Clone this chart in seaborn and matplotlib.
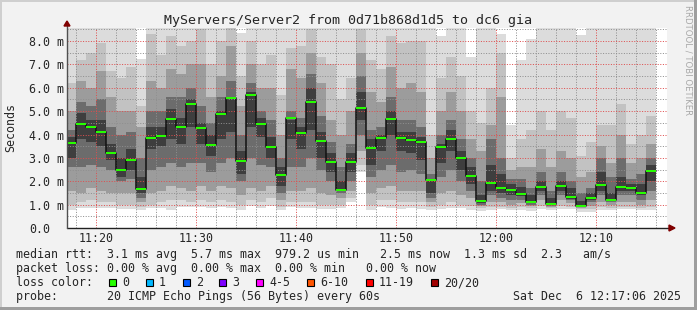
import numpy as np
import pandas as pd
import matplotlib
matplotlib.use("Agg")
import matplotlib.pyplot as plt
import seaborn as sns
from matplotlib.patches import Rectangle, Polygon
from matplotlib.lines import Line2D
from matplotlib.ticker import MultipleLocator, FuncFormatter

# ---------------- data (minutes after 11:00, values in ms) ----------------
col_start = list(range(17, 76))   # one column per minute, 11:17 .. 12:15

median = [3.62, 4.46, 4.33, 4.12, 3.22, 2.49, 2.92, 1.68, 3.86, 3.95,
          4.66, 4.33, 5.31, 4.29, 3.56, 4.89, 5.57, 2.88, 5.68, 4.46,
          3.46, 2.26, 4.70, 4.06, 5.38, 3.72, 2.83, 1.64, 2.83, 5.14,
          3.42, 3.85, 4.66, 3.85, 3.76, 3.68, 2.07, 3.46, 3.80, 3.00,
          2.24, 1.15, 1.94, 1.72, 1.64, 1.47, 1.13, 1.75, 1.04, 1.79,
          1.34, 0.95, 1.30, 1.84, 1.21, 1.75, 1.72, 1.51, 2.45]

# smoke: outermost (min..max ping) down to innermost band around the median
ping_min = [0.77, 0.85, 0.85, 0.85, 0.85, 0.80, 0.80, 0.75, 0.85, 0.85,
            0.77, 0.90, 0.90, 0.90, 0.85, 0.90, 0.85, 0.77, 0.95, 0.85,
            0.95, 0.77, 0.90, 0.85, 0.85, 0.80, 0.80, 0.85, 1.10, 2.40,
            0.77, 0.90, 0.85, 0.80, 0.85, 0.80, 0.77, 0.80, 0.85, 0.85,
            0.77, 0.72, 0.75, 0.80, 0.75, 0.75, 0.72, 0.80, 0.75, 0.80,
            0.80, 0.70, 0.70, 0.75, 0.75, 0.80, 0.80, 0.75, 0.75]
ping_max = [9, 9, 9, 9, 9, 9, 9, 7.25, 9, 9,
            9, 9, 9, 9, 9, 9, 9, 8.35, 9, 9,
            9, 9, 9, 9, 9, 9, 9, 9, 9, 9,
            9, 9, 9, 9, 9, 9, 9, 8.2, 9, 9,
            7.3, 9, 9, 8.3, 4.4, 7.2, 8.1, 9, 9, 9,
            9, 8.25, 9, 9, 9, 9, 9, 9, 9]
band2_low = [1.0, 1.1, 1.2, 1.1, 1.1, 1.0, 1.0, 0.9, 1.0, 1.1,
             1.2, 1.2, 1.1, 1.2, 1.1, 1.2, 1.1, 1.0, 1.2, 1.1,
             1.3, 0.9, 1.1, 1.1, 1.1, 1.0, 1.0, 1.0, 1.3, 2.7,
             1.0, 1.2, 1.2, 1.1, 1.1, 1.1, 0.9, 1.0, 1.1, 1.0,
             0.95, 0.85, 0.9, 0.9, 0.85, 0.9, 0.85, 0.95, 0.85, 0.95,
             0.9, 0.8, 0.8, 0.9, 0.85, 0.9, 0.9, 0.85, 0.9]
band2_high = [6.2, 7.2, 7.5, 7.9, 6.7, 6.4, 6.9, 5.2, 8.3, 7.4,
              8.2, 7.8, 8.0, 8.5, 7.0, 8.0, 8.6, 6.5, 8.0, 7.0,
              7.4, 5.7, 7.7, 7.8, 8.5, 7.3, 7.0, 5.5, 6.4, 8.5,
              7.2, 6.8, 8.2, 7.9, 8.0, 8.0, 4.0, 6.4, 7.3, 6.5,
              5.0, 4.5, 6.0, 7.5, 3.0, 3.8, 4.2, 5.0, 4.2, 5.0,
              4.7, 3.1, 3.7, 4.4, 4.4, 5.3, 3.6, 4.0, 4.8]
band3_low = [1.6, 1.5, 1.7, 1.6, 1.5, 1.5, 1.5, 1.1, 1.5, 1.6,
             1.8, 1.7, 1.6, 1.8, 1.6, 1.8, 1.7, 1.4, 1.7, 1.6,
             1.8, 1.2, 1.6, 1.6, 1.7, 1.5, 1.4, 1.3, 1.6, 3.3,
             1.5, 1.7, 1.8, 1.6, 1.6, 1.6, 1.1, 1.5, 1.6, 1.4,
             1.3, 0.95, 1.1, 1.1, 1.0, 1.05, 0.95, 1.2, 0.9, 1.2,
             1.05, 0.85, 0.95, 1.1, 1.0, 1.1, 1.1, 1.0, 1.2]
band3_high = [5.0, 6.3, 6.0, 6.7, 5.6, 5.0, 5.0, 4.3, 6.3, 6.0,
              6.8, 6.6, 7.0, 7.0, 5.6, 6.5, 7.8, 5.2, 7.0, 6.0,
              6.0, 4.0, 6.8, 6.4, 7.5, 6.2, 4.6, 4.0, 5.0, 7.5,
              5.8, 5.4, 6.9, 6.0, 6.2, 5.8, 3.0, 5.0, 5.8, 5.0,
              3.8, 3.3, 4.4, 5.6, 2.5, 2.6, 2.6, 3.4, 2.6, 3.3,
              3.0, 2.2, 2.4, 3.5, 2.8, 4.0, 2.8, 3.0, 3.6]
band4_low = [2.6, 2.6, 2.7, 2.6, 2.5, 2.0, 2.1, 1.3, 2.5, 2.6,
             2.8, 2.6, 2.8, 2.8, 2.4, 2.8, 3.0, 2.0, 3.0, 2.7,
             2.6, 1.5, 2.6, 2.6, 3.0, 2.5, 2.0, 1.5, 2.0, 4.0,
             2.2, 2.5, 2.7, 2.4, 2.5, 2.3, 1.3, 2.2, 2.5, 2.0,
             1.6, 1.0, 1.4, 1.3, 1.2, 1.2, 1.0, 1.4, 0.95, 1.4,
             1.2, 0.9, 1.1, 1.4, 1.1, 1.4, 1.4, 1.2, 1.6]
band4_high = [4.2, 5.4, 5.2, 5.5, 4.3, 4.0, 4.1, 3.0, 5.0, 5.0,
              5.6, 5.6, 6.0, 5.2, 4.5, 5.6, 6.3, 4.0, 6.2, 5.0,
              4.6, 3.0, 5.0, 4.7, 6.6, 4.8, 3.7, 2.6, 3.6, 6.5,
              4.2, 4.3, 5.6, 4.6, 4.6, 4.3, 2.3, 4.0, 4.6, 3.8,
              3.0, 2.0, 3.8, 3.0, 2.1, 2.1, 1.7, 2.4, 1.6, 2.4,
              2.0, 1.5, 1.7, 3.0, 2.2, 3.0, 2.1, 2.3, 3.0]
band5_low = [3.0, 3.8, 3.7, 3.5, 2.9, 2.2, 2.5, 1.5, 3.4, 3.5,
             3.8, 3.6, 4.3, 3.6, 3.1, 3.8, 4.1, 2.3, 4.3, 3.9,
             3.0, 1.8, 3.8, 3.4, 4.2, 3.0, 2.4, 1.6, 2.4, 4.6,
             2.7, 3.3, 4.0, 3.3, 3.2, 2.9, 1.5, 2.8, 3.3, 2.5,
             1.9, 1.05, 1.6, 1.5, 1.4, 1.35, 1.05, 1.6, 1.0, 1.6,
             1.25, 0.92, 1.2, 1.6, 1.15, 1.6, 1.6, 1.4, 2.0]
band5_high = [3.9, 4.9, 4.6, 4.6, 3.6, 3.0, 3.4, 2.2, 4.3, 4.3,
              5.1, 4.7, 5.5, 4.5, 4.0, 5.0, 5.6, 3.3, 5.8, 4.7,
              3.9, 2.6, 4.6, 4.3, 6.0, 4.1, 3.2, 2.0, 3.2, 5.8,
              3.8, 4.0, 5.0, 4.1, 4.1, 3.9, 2.1, 3.6, 4.2, 3.3,
              2.6, 1.4, 2.7, 2.3, 1.9, 1.75, 1.4, 2.0, 1.3, 2.0,
              1.7, 1.15, 1.5, 2.4, 1.5, 2.2, 1.9, 1.9, 2.7]

y_tick_values = [0, 1, 2, 3, 4, 5, 6, 7, 8]
x_tick_values = [20, 30, 40, 50, 60, 70]
x_tick_labels = ["11:20", "11:30", "11:40", "11:50", "12:00", "12:10"]

loss_labels = ["0", "1", "2", "3", "4-5", "6-10", "11-19", "20/20"]
loss_colors = ["#26ff00", "#00b8ff", "#0059ff", "#7e00ff", "#ff00ff",
               "#ff5500", "#ff0000", "#a10000"]

# ---------------- style ----------------
sns.set_style("white")
plt.rcParams["font.family"] = ["DejaVu Sans Mono"]
FS = 8.4

W, H = 697, 310
def fx(px):
    return px / W
def fy(py):
    return 1 - py / H

fig = plt.figure(figsize=(W / 100, H / 100), dpi=100, facecolor="#f2f2f2")
PXM = 187 / 8.0  # pixels per ms
ax = fig.add_axes([fx(67), fy(228), 600 / W, 200 / H])
ax.set_facecolor("white")
ax.set_xlim(17.1, 77.1)
ax.set_ylim(0, 200 / PXM)
for s in ax.spines.values():
    s.set_visible(False)

# smoke bands
x0 = np.array(col_start, dtype=float)
bands = [(ping_min, ping_max, "#dcdcdc"),
         (band2_low, band2_high, "#c2c2c2"),
         (band3_low, band3_high, "#9c9c9c"),
         (band4_low, band4_high, "#6c6c6c"),
         (band5_low, band5_high, "#3e3e3e")]
for lo, hi, c in bands:
    lo = np.array(lo); hi = np.array(hi)
    ax.bar(x0, hi - lo, bottom=lo, width=1.0, align="edge", color=c,
           linewidth=0, antialiased=False, zorder=1)

# median: black step line + green marks
df = pd.DataFrame({"minute": list(x0) + [x0[-1] + 1],
                   "median": median + [median[-1]]})
sns.lineplot(data=df, x="minute", y="median", ax=ax, color="#111111",
             linewidth=1.1, drawstyle="steps-post", zorder=3,
             estimator=None, sort=False)
med = np.array(median)
ax.bar(x0, 0.09, bottom=med - 0.045, width=1.0, align="edge",
       color=loss_colors[0], linewidth=0, antialiased=False, zorder=4)
ax.set_xlabel("")
ax.set_ylabel("")

# grid
ax.xaxis.set_major_locator(MultipleLocator(10))
ax.xaxis.set_minor_locator(MultipleLocator(2))
ax.yaxis.set_major_locator(MultipleLocator(1))
ax.yaxis.set_minor_locator(MultipleLocator(0.5))
ax.set_axisbelow(False)
ax.grid(which="minor", color=(0.56, 0.56, 0.56, 0.6), linewidth=0.72,
        linestyle=(0, (1, 1.6)))
ax.grid(which="major", color=(0.87, 0.31, 0.31, 0.6), linewidth=0.72,
        linestyle=(0, (1, 1.6)))

ax.set_xticks(x_tick_values)
ax.set_xticklabels(x_tick_labels)
ax.set_yticks(y_tick_values)
ax.yaxis.set_major_formatter(FuncFormatter(
    lambda v, p: "0.0" if v == 0 else f"{v:.1f} m"))
ax.tick_params(axis="both", which="minor", length=0)
ax.tick_params(axis="x", which="major", length=2, width=0.8, color="#212121",
               pad=2.2, labelsize=FS, direction="inout")
ax.tick_params(axis="y", which="major", length=1.4, width=0.8, color="#212121",
               pad=26.0, labelsize=FS)
for lab in ax.get_yticklabels():
    lab.set_horizontalalignment("left")

# axis lines + arrows
fig.add_artist(Line2D([fx(67), fx(670)], [fy(228), fy(228)], color="#212121",
                      lw=1.0, transform=fig.transFigure, zorder=5))
fig.add_artist(Line2D([fx(67), fx(67)], [fy(228), fy(25)], color="#505050",
                      lw=1.0, transform=fig.transFigure, zorder=5))
fig.add_artist(Polygon([[fx(64), fy(26)], [fx(70), fy(26)], [fx(67), fy(21)]],
                       closed=True, color="#800000", transform=fig.transFigure, zorder=6))
fig.add_artist(Polygon([[fx(669), fy(225)], [fx(669), fy(231)], [fx(675), fy(228)]],
                       closed=True, color="#800000", transform=fig.transFigure, zorder=6))

# frame shading
fig.add_artist(Rectangle((0, fy(2)), 1, 2 / H, color="#cfcfcf", transform=fig.transFigure, lw=0))
fig.add_artist(Rectangle((0, 0), fx(2), 1, color="#cfcfcf", transform=fig.transFigure, lw=0))
fig.add_artist(Rectangle((0, 0), 1, 3 / H, color="#9e9e9e", transform=fig.transFigure, lw=0))
fig.add_artist(Rectangle((fx(694), 0), 3 / W, 1, color="#9e9e9e", transform=fig.transFigure, lw=0))

# texts
fig.text(fx(348), fy(24), "MyServers/Server2 from 0d71b868d1d5 to dc6 gia",
         ha="center", va="baseline", fontsize=9.6)
fig.text(fx(11), fy(128), "Seconds", rotation=90, ha="center", va="center",
         fontsize=FS)
fig.text(fx(688), fy(5), "RRDTOOL / TOBI OETIKER", rotation=270, ha="center",
         va="top", fontsize=6.1, color="#a8a8a8", family=["DejaVu Sans"])

line1 = "median rtt:  3.1 ms avg  5.7 ms max  979.2 us min   2.5 ms now  1.3 ms sd  2.3   am/s"
line2 = "packet loss: 0.00 % avg  0.00 % max  0.00 % min   0.00 % now"
fig.text(fx(16), fy(258), line1, ha="left", va="baseline", fontsize=FS)
fig.text(fx(16), fy(272), line2, ha="left", va="baseline", fontsize=FS)
fig.text(fx(16), fy(286), "loss color:", ha="left", va="baseline", fontsize=FS)
box_left = [108.7, 145.7, 182.7, 219.3, 256.0, 307.3, 365.7, 431.0]
for bx, lab, c in zip(box_left, loss_labels, loss_colors):
    fig.add_artist(Rectangle((fx(bx), fy(286)), 7 / W, 7.5 / H, facecolor=c,
                             edgecolor="black", lw=0.8, transform=fig.transFigure))
    fig.text(fx(bx + 13.3), fy(286), lab, ha="left", va="baseline", fontsize=FS)
fig.text(fx(16), fy(300), "probe:       20 ICMP Echo Pings (56 Bytes) every 60s",
         ha="left", va="baseline", fontsize=FS)
fig.text(fx(513), fy(300), "Sat Dec  6 12:17:06 2025", ha="left", va="baseline",
         fontsize=FS)

fig.savefig("out.png", dpi=100, facecolor=fig.get_facecolor())
